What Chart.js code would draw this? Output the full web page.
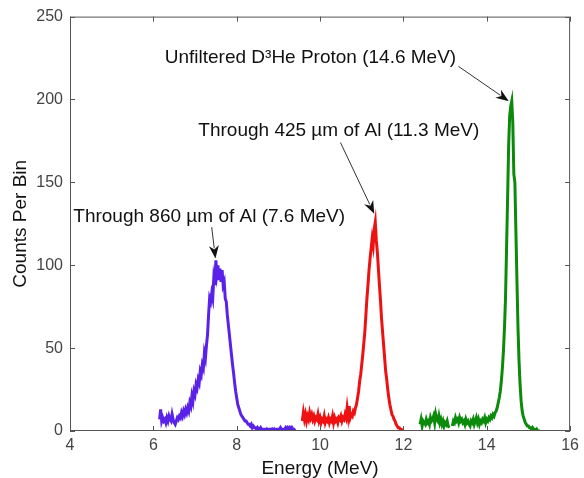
<!DOCTYPE html>
<html lang="en">
<head>
    <meta charset="UTF-8">
    <title>Counts Per Bin vs Energy</title>
    <script src="https://cdn.jsdelivr.net/npm/chart.js"></script>
    <style>
        html, body { margin: 0; padding: 0; background: #fff; }
        #wrap { width: 584px; height: 478px; }
    </style>
</head>
<body>
<div id="wrap"><canvas id="spectrumChart" width="584" height="478"></canvas></div>
<script>
    // bin width of the histograms (MeV)
    const binStep = 0.025;

    // Through 860 um of Al (7.6 MeV) - starts at 6.15 MeV
    const blueStart = 6.15;
    const blueCounts = [
        7, 13, 6, 8, 6, 7, 5, 8, 6, 9, 7, 6, 10, 7, 5, 4, 6, 8, 7, 9,
        8, 11, 9, 12, 10, 13, 11, 14, 12, 17, 15, 21, 18, 24, 22, 28, 26, 31, 29, 36,
        34, 40, 38, 47, 44, 52, 58, 70, 80, 78, 83, 80, 92, 88, 103, 95, 100, 91, 98, 90,
        97, 88, 90, 80, 78, 70, 64, 58, 52, 46, 40, 35, 29, 24, 20, 16, 14, 12, 10, 9,
        8, 7, 6, 6, 5, 4, 4, 3, 4, 2, 3, 2, 2, 1, 2, 1, 1, 2, 1, 0,
        1, 1, 0, 1, 0, 1, 1, 0, 1, 0, 1, 0, 1, 1, 0, 1, 2, 1, 0, 1,
        1, 2, 1, 2, 1, 2, 1, 2, 1, 1, 0
    ];

    // Through 425 um of Al (11.3 MeV) - starts at 9.575 MeV
    const redStart = 9.575;
    const redCounts = [
        6, 11, 7, 10, 6, 9, 7, 11, 8, 10, 7, 9, 6, 8, 7, 10, 6, 8, 5, 7,
        6, 9, 5, 7, 6, 8, 5, 7, 6, 9, 5, 8, 6, 7, 5, 8, 7, 9, 6, 8,
        7, 10, 8, 14, 9, 15, 8, 10, 9, 12, 11, 14, 16, 20, 24, 30, 34, 40, 46, 53,
        60, 70, 80, 88, 97, 104, 110, 116, 112, 122, 126, 115, 108, 98, 88, 79, 68, 60, 52, 44,
        36, 31, 25, 20, 16, 13, 10, 9, 7, 6, 4, 3, 2, 2, 1, 1, 0, 0
    ];

    // Unfiltered D3He proton (14.6 MeV) - starts at 12.4 MeV
    const greenStart = 12.4;
    const greenCounts = [
        4, 7, 3, 6, 5, 4, 7, 5, 6, 4, 8, 6, 7, 9, 5, 10, 7, 6, 9, 5,
        7, 4, 6, 3, 5, 4, 6, 3, 2, null, null, 3, 6, 5, 8, 6, 7, 5, 8, 6,
        7, 5, 6, 4, 7, 5, 6, 4, 3, 6, 5, 7, 4, 6, 8, 5, 7, 4, 6, 5,
        7, 6, 8, 5, 7, 6, 8, 7, 9, 8, 10, 9, 11, 12, 14, 17, 20, 24, 30, 38,
        48, 62, 80, 110, 140, 172, 190, 196, 199, 186, 155, 150, 120, 90, 62, 42, 28, 18, 12, 9,
        7, 5, 4, 3, 3, 2, 2, 1, 2, 1, 1, 0, 1, 0, 0, 0
    ];

    // axis ticks
    const energyTicks = [4, 6, 8, 10, 12, 14, 16];
    const countTicks = [0, 50, 100, 150, 200, 250];

    // annotations (text centre and arrow, in data units)
    const noteLabels = [
        'Unfiltered D\u00B3He Proton (14.6 MeV)',
        'Through 425 \u00B5m of Al (11.3 MeV)',
        'Through 860 \u00B5m of Al (7.6 MeV)'
    ];
    const noteX = [9.77, 10.45, 7.34];
    const noteY = [225, 181, 129.5];
    const arrowFromX = [13.32, 10.49, 7.40];
    const arrowFromY = [220, 174, 123];
    const arrowToX = [14.53, 11.30, 7.49];
    const arrowToY = [199, 131, 104];

    function toPoints(start, counts) {
        return counts.map((c, i) => ({ x: start + i * binStep, y: c }));
    }

    const fontFamily = '"Liberation Sans", Arial, sans-serif';

    // frame with inward ticks + arrows and labels
    const framePlugin = {
        id: 'frame',
        afterDatasetsDraw(chart) {
            const { ctx, chartArea: a, scales } = chart;
            const xs = scales.x, ys = scales.y;
            ctx.save();
            ctx.strokeStyle = '#555';
            ctx.lineWidth = 1;
            ctx.strokeRect(a.left + 0.5, a.top + 0.5, a.right - a.left - 1, a.bottom - a.top - 1);
            const tl = 5;
            ctx.beginPath();
            energyTicks.forEach(v => {
                const px = Math.round(xs.getPixelForValue(v)) + 0.5;
                ctx.moveTo(px, a.bottom); ctx.lineTo(px, a.bottom - tl);
                ctx.moveTo(px, a.top); ctx.lineTo(px, a.top + tl);
            });
            countTicks.forEach(v => {
                const py = Math.round(ys.getPixelForValue(v)) + 0.5;
                ctx.moveTo(a.left, py); ctx.lineTo(a.left + tl, py);
                ctx.moveTo(a.right, py); ctx.lineTo(a.right - tl, py);
            });
            ctx.stroke();

            ctx.fillStyle = '#111';
            ctx.font = '19px ' + fontFamily;
            ctx.textAlign = 'center';
            ctx.textBaseline = 'middle';
            noteLabels.forEach((t, i) => {
                ctx.fillText(t, xs.getPixelForValue(noteX[i]), ys.getPixelForValue(noteY[i]));
                const x0 = xs.getPixelForValue(arrowFromX[i]), y0 = ys.getPixelForValue(arrowFromY[i]);
                const x1 = xs.getPixelForValue(arrowToX[i]), y1 = ys.getPixelForValue(arrowToY[i]);
                const ang = Math.atan2(y1 - y0, x1 - x0);
                const hl = 13, hw = 5;
                ctx.strokeStyle = '#333';
                ctx.lineWidth = 1;
                ctx.beginPath();
                ctx.moveTo(x0, y0);
                ctx.lineTo(x1 - hl * 0.8 * Math.cos(ang), y1 - hl * 0.8 * Math.sin(ang));
                ctx.stroke();
                ctx.beginPath();
                ctx.moveTo(x1, y1);
                ctx.lineTo(x1 - hl * Math.cos(ang) + hw * Math.sin(ang), y1 - hl * Math.sin(ang) - hw * Math.cos(ang));
                ctx.lineTo(x1 - hl * 0.7 * Math.cos(ang), y1 - hl * 0.7 * Math.sin(ang));
                ctx.lineTo(x1 - hl * Math.cos(ang) - hw * Math.sin(ang), y1 - hl * Math.sin(ang) + hw * Math.cos(ang));
                ctx.closePath();
                ctx.fill();
            });
            ctx.restore();
        }
    };

    const lineStyle = { pointRadius: 0, borderWidth: 3, tension: 0, fill: false, spanGaps: false };

    new Chart(document.getElementById('spectrumChart'), {
        type: 'line',
        data: {
            datasets: [
                Object.assign({ label: '860 um Al', data: toPoints(blueStart, blueCounts), borderColor: '#5a22e8' }, lineStyle),
                Object.assign({ label: '425 um Al', data: toPoints(redStart, redCounts), borderColor: '#ee1111' }, lineStyle),
                Object.assign({ label: 'Unfiltered', data: toPoints(greenStart, greenCounts), borderColor: '#0b8a0b' }, lineStyle)
            ]
        },
        options: {
            responsive: false,
            animation: false,
            layout: { padding: { top: 16, right: 9, left: 0, bottom: 0 } },
            plugins: { legend: { display: false }, tooltip: { enabled: false } },
            scales: {
                x: {
                    type: 'linear',
                    min: 4, max: 16,
                    afterBuildTicks: s => { s.ticks = energyTicks.map(v => ({ value: v })); },
                    afterFit: s => { s.height = 47; },
                    grid: { display: false, drawTicks: false },
                    border: { display: false },
                    ticks: { color: '#444', padding: 5, font: { family: fontFamily, size: 16 } },
                    title: { display: true, text: 'Energy (MeV)', color: '#111', padding: { top: 0, bottom: 0 },
                        font: { family: fontFamily, size: 19, lineHeight: 1 } }
                },
                y: {
                    min: 0, max: 250,
                    afterBuildTicks: s => { s.ticks = countTicks.map(v => ({ value: v })); },
                    afterFit: s => { s.width = 70; },
                    grid: { display: false, drawTicks: false },
                    border: { display: false },
                    ticks: { color: '#444', padding: 7, font: { family: fontFamily, size: 16 } },
                    title: { display: true, text: 'Counts Per Bin', color: '#111', padding: { top: 11, bottom: 0 },
                        font: { family: fontFamily, size: 19, lineHeight: 1 } }
                }
            }
        },
        plugins: [framePlugin]
    });
</script>
</body>
</html>
